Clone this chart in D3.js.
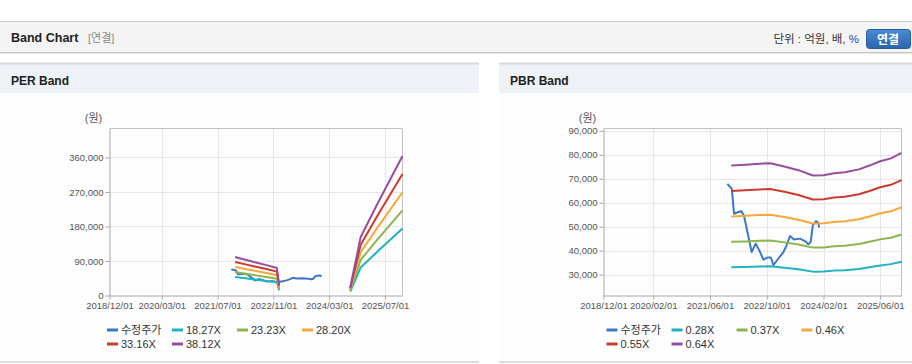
<!DOCTYPE html>
<html>
<head>
<meta charset="utf-8">
<script src="https://cdn.jsdelivr.net/npm/d3@7"></script>
<style>
  body { margin: 0; background: #fff; }
  svg { display: block; }
</style>
</head>
<body>
<div id="chart"></div>
<script>
// ---- data ----
const xTicksPER = ["2018-12-01", "2020-03-01", "2021-07-01", "2022-11-01", "2024-03-01", "2025-07-01"];
const xTicksPBR = ["2018-12-01", "2020-02-01", "2021-06-01", "2022-10-01", "2024-02-01", "2025-06-01"];
const yTicksPER = [0, 90000, 180000, 270000, 360000];
const yTicksPBR = [30000, 40000, 50000, 60000, 70000, 80000, 90000];

// adjusted price (수정주가), shared by both charts
const priceDates = ["2021-10-29", "2021-12-06", "2021-12-25", "2022-02-01", "2022-02-24", "2022-03-20",
  "2022-05-25", "2022-06-29", "2022-07-30", "2022-09-03", "2022-10-07", "2022-11-06", "2022-11-28",
  "2023-01-10", "2023-02-22", "2023-03-21", "2023-04-19", "2023-05-23", "2023-07-14", "2023-08-26",
  "2023-09-24", "2023-10-14", "2023-11-01", "2023-11-30", "2023-12-19", "2023-12-25"];
const priceValues = [67900, 65800, 55400, 56100, 56500, 54700,
  39400, 42900, 40100, 36200, 37100, 37100, 33900,
  36700, 39400, 42200, 46100, 44600, 45000, 44000,
  42600, 43600, 50500, 52300, 51500, 49600];

// EPS behind the PER band (null = gap)
const epsDates = ["2021-12-01", "2022-03-01", "2022-06-01", "2022-09-01", "2022-12-01", "2022-12-20",
  "2023-08-01", "2024-09-01", "2024-12-01", "2025-05-01", "2025-12-01"];
const epsValues = [2640, 2450, 2260, 2080, 1880, 760,
  null, 560, 4000, 6350, 9550];
const perMultiples = [18.27, 23.23, 28.20, 33.16, 38.12];

// BPS behind the PBR band
const bpsDates = ["2021-12-01", "2022-04-01", "2022-08-01", "2022-11-01", "2023-03-01", "2023-07-01",
  "2023-11-01", "2024-02-01", "2024-05-01", "2024-08-01", "2024-12-01", "2025-03-01",
  "2025-06-01", "2025-09-01", "2025-12-01"];
const bpsValues = [118000, 118500, 119200, 119500, 117400, 115000,
  111500, 111700, 113000, 113600, 115500, 118000,
  120800, 122700, 126300];
const pbrMultiples = [0.28, 0.37, 0.46, 0.55, 0.64];

const perLegend = ["수정주가", "18.27X", "23.23X", "28.20X", "33.16X", "38.12X"];
const pbrLegend = ["수정주가", "0.28X", "0.37X", "0.46X", "0.55X", "0.64X"];

const colors = ["#3b78c5", "#20b2c3", "#8cb54e", "#f5a93a", "#cf3a2f", "#994d9e"];

// ---- setup ----
const W = 912, H = 364;
const FONT = "'Liberation Sans', Arial, 'Noto Sans CJK KR', sans-serif";
const parse = d3.timeParse("%Y-%m-%d");

const svg = d3.select('#chart')
  .append('svg')
  .attr('width', W)
  .attr('height', H)
  .style('font-family', FONT);

// top header bar
svg.append('rect').attr('x', 0).attr('y', 22).attr('width', W).attr('height', 30).attr('fill', '#f4f4f4');
svg.append('line').attr('x1', 0).attr('x2', W).attr('y1', 21.5).attr('y2', 21.5).attr('stroke', '#c9c9c9');
svg.append('line').attr('x1', 0).attr('x2', W).attr('y1', 52.5).attr('y2', 52.5).attr('stroke', '#c4c4c4');
svg.append('line').attr('x1', 0).attr('x2', W).attr('y1', 53.5).attr('y2', 53.5).attr('stroke', '#e6e6e6');
svg.append('text').attr('x', 11).attr('y', 42).text('Band Chart')
  .attr('font-size', '12.5px').attr('font-weight', 'bold').attr('fill', '#222');
svg.append('text').attr('x', 88).attr('y', 42).text('[연결]')
  .attr('font-size', '11px').attr('fill', '#8a8a8a');
svg.append('text').attr('x', 859).attr('y', 43).attr('text-anchor', 'end')
  .attr('font-size', '11.5px').attr('fill', '#333')
  .call(t => {
    t.append('tspan').text('단위 : 억원, 배, ');
    t.append('tspan').text('%').attr('fill', '#3b3b9a');
  });
const btnGrad = svg.append('defs').append('linearGradient').attr('id', 'btn')
  .attr('x1', 0).attr('x2', 0).attr('y1', 0).attr('y2', 1);
btnGrad.append('stop').attr('offset', '0%').attr('stop-color', '#4a8bd4');
btnGrad.append('stop').attr('offset', '100%').attr('stop-color', '#2a64ad');
svg.append('rect').attr('x', 866.5).attr('y', 29.5).attr('width', 44).attr('height', 19).attr('rx', 3)
  .attr('fill', 'url(#btn)').attr('stroke', '#2a5d9e');
svg.append('text').attr('x', 888).attr('y', 43.5).attr('text-anchor', 'middle').text('연결')
  .attr('font-size', '12px').attr('font-weight', 'bold').attr('fill', '#fff');

// one band chart panel
function drawPanel(cfg) {
  const g = svg.append('g');

  // panel frame
  g.append('rect').attr('x', cfg.px).attr('y', 64).attr('width', cfg.pw).attr('height', 29).attr('fill', '#eef1f6');
  g.append('rect').attr('x', cfg.px).attr('y', 93).attr('width', cfg.pw).attr('height', 268).attr('fill', '#fdfdfd');
  g.append('line').attr('x1', cfg.px).attr('x2', cfg.px + cfg.pw).attr('y1', 63.5).attr('y2', 63.5)
    .attr('stroke', '#d6d9de').attr('stroke-width', 2);
  g.append('line').attr('x1', cfg.px).attr('x2', cfg.px + cfg.pw).attr('y1', 362).attr('y2', 362)
    .attr('stroke', '#dcdcdc').attr('stroke-width', 2);
  g.append('text').attr('x', cfg.px + 11).attr('y', 85).text(cfg.title)
    .attr('font-size', '12px').attr('font-weight', 'bold').attr('fill', '#222');

  const top = 128.5, bottom = 295.5;
  const x = d3.scaleTime()
    .domain([parse("2018-12-01"), parse("2025-12-01")])
    .range([cfg.left, cfg.right]);
  const y = d3.scaleLinear()
    .domain(cfg.yDomain)
    .range([bottom, top]);

  // grid lines
  g.append('g').selectAll('line')
    .data(cfg.xTicks.slice(1))
    .enter().append('line')
      .attr('x1', d => Math.round(x(parse(d))) + 0.5)
      .attr('x2', d => Math.round(x(parse(d))) + 0.5)
      .attr('y1', top).attr('y2', bottom)
      .attr('stroke', '#e6e6e6');
  g.append('g').selectAll('line')
    .data(cfg.yTicks.filter(d => d > cfg.yDomain[0]))
    .enter().append('line')
      .attr('x1', cfg.left).attr('x2', cfg.right)
      .attr('y1', d => Math.round(y(d)) + 0.5)
      .attr('y2', d => Math.round(y(d)) + 0.5)
      .attr('stroke', '#e6e6e6');

  // top and right frame
  g.append('path')
    .attr('d', `M${cfg.left},${top}H${cfg.right}V${bottom}`)
    .attr('fill', 'none').attr('stroke', '#c2c2c2');

  // axes
  const yAxis = g.append('g')
    .attr('transform', `translate(${cfg.left},0)`)
    .call(d3.axisLeft(y).tickValues(cfg.yTicks).tickSize(4).tickSizeOuter(0).tickPadding(2)
      .tickFormat(d3.format(",")));
  const xAxis = g.append('g')
    .attr('transform', `translate(0,${bottom})`)
    .call(d3.axisBottom(x).tickValues(cfg.xTicks.map(parse)).tickSize(4).tickSizeOuter(0).tickPadding(3)
      .tickFormat(d3.timeFormat("%Y/%m/%d")));
  [yAxis, xAxis].forEach(a => {
    a.select('.domain').attr('stroke', '#a8a8a8');
    a.selectAll('.tick line').attr('stroke', '#a8a8a8');
    a.selectAll('.tick text').attr('fill', '#555').style('font-size', '9.5px').style('font-family', FONT);
  });

  g.append('text').attr('x', cfg.left - 16).attr('y', 122).attr('text-anchor', 'middle')
    .text('(원)').attr('font-size', '11px').attr('fill', '#555');

  const line = d3.line()
    .defined(d => d.v != null)
    .x(d => x(d.date))
    .y(d => y(d.v));

  // price first, bands on top (series order)
  const price = priceDates.map((d, i) => ({date: parse(d), v: priceValues[i]}));
  g.append('path').datum(price)
    .attr('d', line).attr('fill', 'none')
    .attr('stroke', colors[0]).attr('stroke-width', 2).attr('stroke-linejoin', 'round');

  cfg.multiples.forEach((m, k) => {
    const band = cfg.baseDates.map((d, i) => ({
      date: parse(d),
      v: cfg.baseValues[i] == null ? null : cfg.baseValues[i] * m
    }));
    g.append('path').datum(band)
      .attr('d', line).attr('fill', 'none')
      .attr('stroke', colors[k + 1]).attr('stroke-width', 2).attr('stroke-linejoin', 'round');
  });

  // legend
  const leg = g.append('g').selectAll('g')
    .data(cfg.legend)
    .enter().append('g')
      .attr('transform', (d, i) => `translate(${cfg.legendX + (i % 4) * 65},${330 + Math.floor(i / 4) * 14})`);
  leg.append('line')
    .attr('x1', 0).attr('x2', 11).attr('y1', 0).attr('y2', 0)
    .attr('stroke', (d, i) => colors[i]).attr('stroke-width', 3);
  leg.append('text')
    .attr('x', 14).attr('y', 0).attr('dy', '0.35em')
    .text(d => d)
    .attr('font-size', '11px').attr('fill', '#333');
}

drawPanel({
  title: 'PER Band', px: 0, pw: 479,
  left: 109.5, right: 402.5,
  yDomain: [0, 435600], yTicks: yTicksPER, xTicks: xTicksPER,
  baseDates: epsDates, baseValues: epsValues, multiples: perMultiples,
  legend: perLegend, legendX: 107
});
drawPanel({
  title: 'PBR Band', px: 499, pw: 413,
  left: 603.5, right: 901.5,
  yDomain: [21250, 91000], yTicks: yTicksPBR, xTicks: xTicksPBR,
  baseDates: bpsDates, baseValues: bpsValues, multiples: pbrMultiples,
  legend: pbrLegend, legendX: 606.5
});
</script>
</body>
</html>
